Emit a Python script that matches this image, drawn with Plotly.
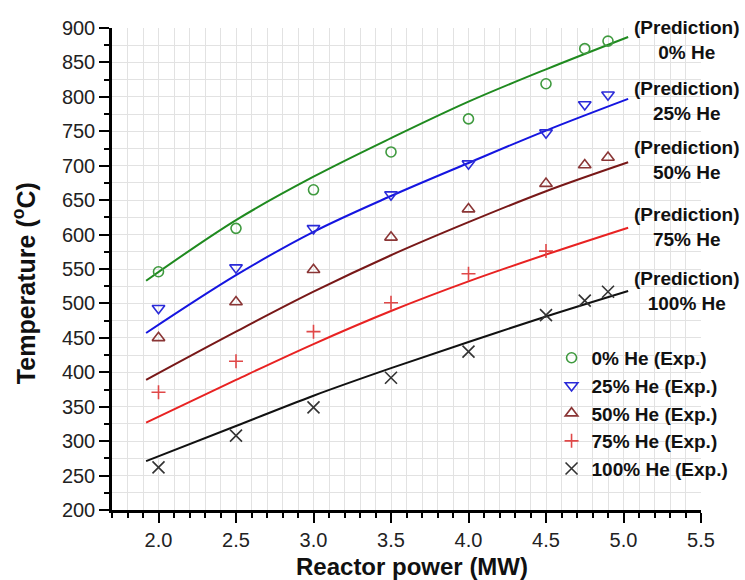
import plotly.graph_objects as go

# Reactor power (MW) at which experiments were run
power_exp = [2.0, 2.5, 3.0, 3.5, 4.0, 4.5, 4.75, 4.9]
power_exp_75 = [2.0, 2.5, 3.0, 3.5, 4.0, 4.5]

# Measured temperatures (°C)
exp_0 = [546, 609, 665, 720, 768, 819, 870, 881]
exp_25 = [493, 552, 609, 658, 703, 748, 789, 803]
exp_50 = [450, 502, 549, 596, 637, 674, 701, 712]
exp_75 = [371, 416, 459, 501, 543, 576]
exp_100 = [262, 308, 349, 392, 430, 483, 504, 517]

# Predicted temperature curves (°C)
power_pred = [1.92, 2.5, 3.0, 3.5, 4.0, 4.5, 5.03]
pred_0 = [533, 621, 684, 740, 793, 840, 887]
pred_25 = [457, 541, 604, 656, 704, 751, 797]
pred_50 = [389, 459, 517, 570, 618, 663, 705]
pred_75 = [327, 389, 441, 489, 532, 571, 610]
pred_100 = [271, 322, 366, 406, 444, 481, 518]

labels = ["0% He", "25% He", "50% He", "75% He", "100% He"]

FONT = "Arial, 'Liberation Sans', sans-serif"

line_colors = ["#1f8a1f", "#1515e0", "#781818", "#e82222", "#111111"]
marker_colors = ["#3f9a3f", "#2a2ad8", "#8a3535", "#e04848", "#333333"]
symbols = ["circle-open", "triangle-down-open", "triangle-up-open",
           "cross-thin-open", "x-thin-open"]
marker_sizes = [10, 11, 11, 10, 12]

preds = [pred_0, pred_25, pred_50, pred_75, pred_100]
exps = [(power_exp, exp_0), (power_exp, exp_25), (power_exp, exp_50),
        (power_exp_75, exp_75), (power_exp, exp_100)]

fig = go.Figure()

for i, p in enumerate(preds):
    fig.add_trace(go.Scatter(
        x=power_pred, y=p, mode="lines",
        line=dict(color=line_colors[i], width=2, shape="spline", smoothing=1.0),
        showlegend=False, hoverinfo="skip"))

for i, (px, py) in enumerate(exps):
    fig.add_trace(go.Scatter(
        x=px, y=py, mode="markers",
        name=f"<b>{labels[i]} (Exp.)</b>",
        legendgroup=f"g{i}",
        marker=dict(symbol=symbols[i], size=marker_sizes[i],
                    color=marker_colors[i],
                    line=dict(color=marker_colors[i], width=1.6))))

# Prediction labels beside each curve
label_y = [0.976, 0.8485, 0.726, 0.587, 0.455]
for i, lab in enumerate(labels):
    fig.add_annotation(
        xref="paper", yref="paper", x=0.976, y=label_y[i],
        text=f"<b>(Prediction)</b><br><b>{lab}</b>",
        showarrow=False, xanchor="center", yanchor="middle",
        font=dict(family=FONT, size=19, color="#111111"))

# Axis titles
fig.add_annotation(
    xref="paper", yref="paper", x=(413 - 112) / 590, y=(510 - 566) / 482,
    text="<b>Reactor power (MW)</b>", showarrow=False,
    xanchor="center", yanchor="middle",
    font=dict(family=FONT, size=24, color="#111111"))
fig.add_annotation(
    xref="paper", yref="paper", x=(24 - 112) / 590, y=(510 - 283) / 482,
    text="<b>Temperature (<sup>o</sup>C)</b>", showarrow=False, textangle=-90,
    xanchor="center", yanchor="middle",
    font=dict(family=FONT, size=25, color="#111111"))

grid_color = "#e2e2e2"

fig.update_layout(
    width=745, height=580,
    margin=dict(l=112, r=43, t=28, b=70),
    paper_bgcolor="white", plot_bgcolor="white",
    font=dict(family=FONT, color="#111111"),
    legend=dict(
        x=0.745, y=0.355, xanchor="left", yanchor="top",
        bgcolor="rgba(255,255,255,0)",
        font=dict(family=FONT, size=19, color="#111111"),
        tracegroupgap=0, itemwidth=30),
    xaxis=dict(
        range=[1.7, 5.5], tick0=2.0, dtick=0.5, tickformat=".1f",
        showline=True, linecolor="black", linewidth=2.5,
        ticks="outside", ticklen=10, tickwidth=2, tickcolor="black",
        tickfont=dict(family=FONT, size=20, color="#222222"),
        showgrid=True, gridcolor=grid_color, gridwidth=1,
        zeroline=False, fixedrange=True,
        minor=dict(dtick=0.1, tick0=2.0, ticks="outside", ticklen=5,
                   tickwidth=2, tickcolor="black",
                   showgrid=True, gridcolor=grid_color, gridwidth=1)),
    yaxis=dict(
        range=[200, 900], tick0=200, dtick=50,
        showline=True, linecolor="black", linewidth=2.5,
        ticks="outside", ticklen=10, tickwidth=2, tickcolor="black",
        tickfont=dict(family=FONT, size=20, color="#222222"),
        showgrid=True, gridcolor=grid_color, gridwidth=1,
        zeroline=False, fixedrange=True,
        minor=dict(dtick=25, tick0=200, ticks="outside", ticklen=5,
                   tickwidth=2, tickcolor="black",
                   showgrid=True, gridcolor=grid_color, gridwidth=1)),
)

fig.write_html("out.html")
